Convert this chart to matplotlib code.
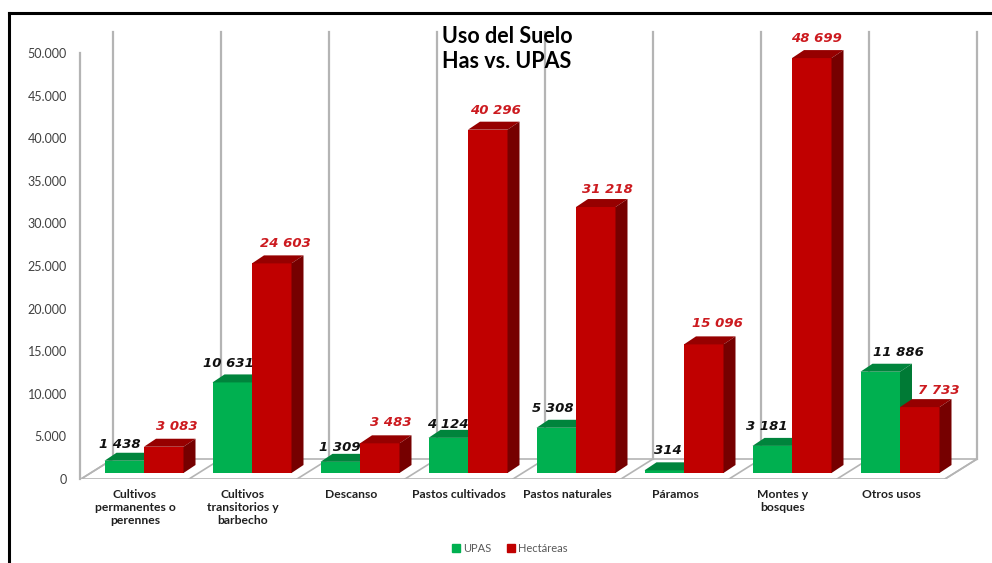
import matplotlib
matplotlib.use('Agg')
import matplotlib.pyplot as plt
from matplotlib.patches import Polygon, Patch
from matplotlib.lines import Line2D
from matplotlib.ticker import FuncFormatter

plt.rcParams['font.family'] = ['Lato', 'DejaVu Sans']

categorias = ['Cultivos\npermanentes o\nperennes', 'Cultivos\ntransitorios y\nbarbecho',
              'Descanso', 'Pastos cultivados', 'Pastos naturales', 'Páramos',
              'Montes y\nbosques', 'Otros usos']
upas = [1438, 10631, 1309, 4124, 5308, 314, 3181, 11886]
hectareas = [3083, 24603, 3483, 40296, 31218, 15096, 48699, 7733]
series = ['UPAS', 'Hectáreas']

# label nudges in pixels (x right, y above front top)
upas_dx = [-10, -10, -6, -6, -9, -2, -11, 12]
upas_dy = [16, 19, 14, 13, 19, 20, 19, 19]
hect_dx = [7, 8, 5, 2, 6, 8, -1, 13]
hect_dy = [20, 20, 21, 19, 18, 21, 20, 17]

verde = ('#00B050', '#00843C', '#007A35')
rojo = ('#C00000', '#960000', '#760000')
gris = '#B4B4B4'

W, H = 992, 563
fig = plt.figure(figsize=(W / 100, H / 100), dpi=100)
px_left, px_base = 80, 479
ax = fig.add_axes([px_left / W, 1 - px_base / H, (W - px_left) / W, px_base / H])
xpx = 108.0          # pixels per category
ypx = 426 / 50000    # pixels per unit
ax.set_xlim((px_left - 144) / xpx, (W - 144) / xpx)
ax.set_ylim(0, px_base / ypx)


def dx(p):
    return p / xpx


def dy(p):
    return p / ypx


# floor and back wall
fx0 = (81 - 144) / xpx
fdx, fdy = dx(32), dy(20)
n = len(categorias)
ax.add_patch(Polygon([(fx0, 0), (fx0 + n, 0), (fx0 + n + fdx, fdy), (fx0 + fdx, fdy)],
                     facecolor='white', edgecolor=gris, lw=1.2, zorder=1))
for k in range(n + 1):
    ax.plot([fx0 + k, fx0 + k + fdx], [0, fdy], color=gris, lw=1.2, zorder=1)
    ax.plot([fx0 + k + fdx] * 2, [fdy, dy(px_base - 32)], color=gris, lw=1.6, zorder=1)

# 3d bars
bw = dx(39.5)
bx, by = dx(12), dy(8)
base = dy(6)


def caja(xl, h, cols, z):
    ax.bar(xl, h, width=bw, bottom=base, align='edge', color=cols[0], lw=0, zorder=z)
    top = base + h
    ax.add_patch(Polygon([(xl, top), (xl + bx, top + by), (xl + bw + bx, top + by), (xl + bw, top)],
                         facecolor=cols[1], lw=0, zorder=z))
    ax.add_patch(Polygon([(xl + bw, base), (xl + bw + bx, base + by), (xl + bw + bx, top + by), (xl + bw, top)],
                         facecolor=cols[2], lw=0, zorder=z))


for i in range(n):
    caja(i - bw, upas[i], verde, 3 + 2 * i)
    caja(i, hectareas[i], rojo, 4 + 2 * i)


def fmt(v):
    return f'{v:,}'.replace(',', ' ')


lab = dict(ha='center', va='center', fontsize=9.5, fontweight='bold', fontstyle='italic',
           family='DejaVu Sans', textcoords='offset points', zorder=30)
for i in range(n):
    ax.annotate(fmt(upas[i]), xy=(i - bw / 2 + bx / 2, base + upas[i]),
                xytext=(upas_dx[i] * 0.72, upas_dy[i] * 0.72), color='#111111', **lab)
    ax.annotate(fmt(hectareas[i]), xy=(i + bw / 2 + bx / 2, base + hectareas[i]),
                xytext=(hect_dx[i] * 0.72, hect_dy[i] * 0.72), color='#CC1A1F', **lab)

# axes
for s in ['top', 'right', 'bottom']:
    ax.spines[s].set_visible(False)
ax.spines['left'].set_color(gris)
ax.spines['left'].set_linewidth(1.6)
ax.spines['left'].set_bounds(0, 50000)
ax.set_yticks(range(0, 50001, 5000))
ax.yaxis.set_major_formatter(FuncFormatter(lambda v, p: f'{int(v):,}'.replace(',', '.')))
ax.tick_params(axis='y', length=0, pad=9.5, labelsize=9, labelcolor='#404040')
ax.set_xticks([fx0 + 0.5 + i for i in range(n)])
ax.set_xticklabels(categorias, fontsize=8.7, fontweight='bold', color='#202020', linespacing=1.25)
ax.tick_params(axis='x', length=0, pad=7)

fig.text(507 / W, 1 - 49 / H, 'Uso del Suelo\nHas vs. UPAS', ha='center', va='center',
         multialignment='center', fontsize=15.5, fontweight='bold', linespacing=1.25)

handles = [Patch(color=verde[0]), Patch(color=rojo[0])]
fig.legend(handles, series, loc='center', bbox_to_anchor=(510 / W, 1 - 548 / H), ncol=2,
           frameon=False, fontsize=8, handlelength=0.7, handleheight=0.7, handletextpad=0.3,
           columnspacing=1.4, labelcolor='#595959')

# outer frame
fig.add_artist(Line2D([9 / W, 1], [1 - 13 / H] * 2, color='black', lw=2.2, transform=fig.transFigure))
fig.add_artist(Line2D([9 / W] * 2, [1 - 13 / H, 0], color='black', lw=2.2, transform=fig.transFigure))

fig.savefig('out.png', dpi=100)
